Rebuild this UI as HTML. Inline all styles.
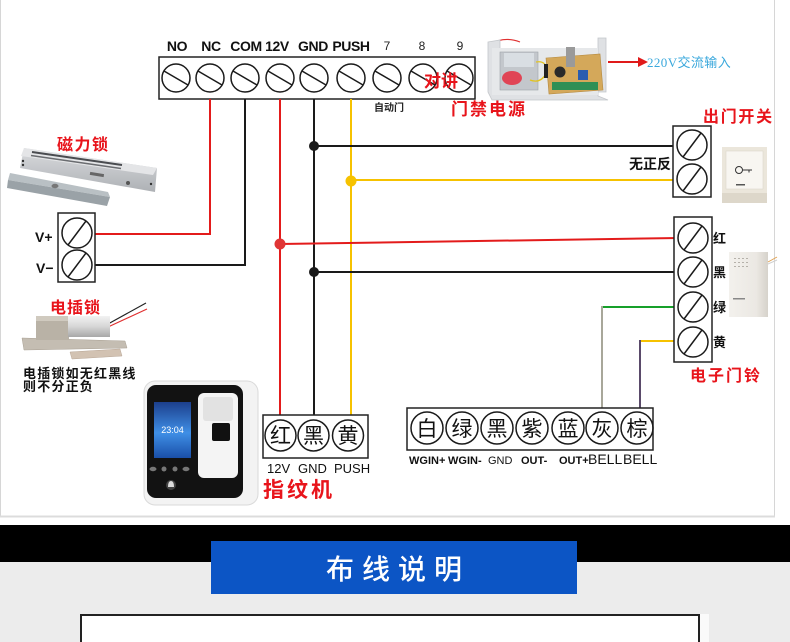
<!DOCTYPE html>
<html><head><meta charset="utf-8">
<style>
html,body{margin:0;padding:0;width:790px;height:642px;overflow:hidden;background:#fff;}
svg{display:block;}
text{font-family:"Liberation Sans","Noto Sans CJK SC",sans-serif;}
</style></head><body>
<svg width="790" height="642" viewBox="0 0 790 642" xmlns="http://www.w3.org/2000/svg">
<defs>
<linearGradient id="silv" x1="0" y1="0" x2="0" y2="1"><stop offset="0" stop-color="#d9dbde"/><stop offset="1" stop-color="#aeb1b5"/></linearGradient>
<linearGradient id="cyl" x1="0" y1="0" x2="0" y2="1"><stop offset="0" stop-color="#f2f2f2"/><stop offset="0.5" stop-color="#d6d6d6"/><stop offset="1" stop-color="#a8a8a8"/></linearGradient>
<linearGradient id="scr" x1="0" y1="0" x2="0" y2="1"><stop offset="0" stop-color="#1c3f8c"/><stop offset="0.55" stop-color="#3f8fe6"/><stop offset="1" stop-color="#1a4fa8"/></linearGradient>
<linearGradient id="bell" x1="0" y1="0" x2="1" y2="0"><stop offset="0" stop-color="#f3f1ed"/><stop offset="0.7" stop-color="#ebe8e3"/><stop offset="1" stop-color="#d6d2cb"/></linearGradient>
</defs>

<!-- panel -->
<rect x="0.5" y="-2" width="774" height="518" fill="#fff" stroke="#d6d6d6" stroke-width="1"/>
<line x1="0" y1="516.5" x2="775" y2="516.5" stroke="#dcdcdc" stroke-width="2"/>

<!-- bottom section -->
<rect x="0" y="525" width="790" height="37" fill="#000"/>
<rect x="0" y="562" width="790" height="80" fill="#ececec"/>
<rect x="211" y="541" width="366" height="53" fill="#0c55c5"/>
<text x="398" y="579" font-size="28" font-weight="500" fill="#fff" text-anchor="middle" letter-spacing="8">布线说明</text>
<rect x="700" y="614" width="9" height="28" fill="#fafafa"/>
<rect x="81" y="615" width="618" height="40" fill="#fff" stroke="#222" stroke-width="2"/>

<!-- ========== top terminal strip ========== -->
<g font-size="14" font-weight="bold" fill="#111" text-anchor="middle" letter-spacing="-0.4">
<text x="177" y="51">NO</text>
<text x="211" y="51">NC</text>
<text x="246" y="51">COM</text>
<text x="277" y="51">12V</text>
<text x="313" y="51">GND</text>
<text x="351" y="51">PUSH</text>
</g>
<g font-size="12" fill="#222" text-anchor="middle">
<text x="387" y="50">7</text>
<text x="422" y="50">8</text>
<text x="460" y="50">9</text>
</g>
<rect x="159" y="57" width="316" height="42" fill="#fff" stroke="#222" stroke-width="1.5"/>
<g fill="none" stroke="#1a1a1a" stroke-width="1.5">
<circle cx="176" cy="78" r="14"/><line x1="164" y1="71" x2="188" y2="85"/>
<circle cx="210" cy="78" r="14"/><line x1="198" y1="71" x2="222" y2="85"/>
<circle cx="245" cy="78" r="14"/><line x1="233" y1="71" x2="257" y2="85"/>
<circle cx="280" cy="78" r="14"/><line x1="268" y1="71" x2="292" y2="85"/>
<circle cx="314" cy="78" r="14"/><line x1="302" y1="71" x2="326" y2="85"/>
<circle cx="351" cy="78" r="14"/><line x1="339" y1="71" x2="363" y2="85"/>
<circle cx="387" cy="78" r="14"/><line x1="375" y1="71" x2="399" y2="85"/>
<circle cx="423" cy="78" r="14"/><line x1="411" y1="71" x2="435" y2="85"/>
<circle cx="459" cy="78" r="14"/><line x1="447" y1="71" x2="471" y2="85"/>
</g>
<text x="424" y="87" font-size="17" font-weight="bold" fill="#e8141b">对讲</text>
<text x="374" y="111" font-size="10" font-weight="bold" fill="#222">自动门</text>
<text x="451" y="115" font-size="17" font-weight="bold" fill="#e8141b" letter-spacing="2">门禁电源</text>

<!-- power supply image -->
<g>
<path d="M490 44 Q505 36 520 42" stroke="#e03030" stroke-width="1.2" fill="none"/>
<polygon points="488,42 500,40 500,92 606,92 606,38 598,38 598,96 608,100 492,100 488,92" fill="#dfe1e4" stroke="#c3c6ca" stroke-width="0.8"/>
<rect x="492" y="48" width="106" height="47" fill="#e6e8ea"/>
<rect x="500" y="52" width="38" height="38" fill="#c3c7cc" stroke="#9ea3a8" stroke-width="0.6"/>
<rect x="504" y="53" width="30" height="14" fill="#d9dee3"/>
<ellipse cx="512" cy="78" rx="10" ry="7" fill="#e04455"/>
<polygon points="546,58 600,54 603,90 549,94" fill="#d4a85a" stroke="#b48a40" stroke-width="0.6"/>
<rect x="566" y="47" width="9" height="20" fill="#9a9a9a"/>
<circle cx="560" cy="72" r="5.5" fill="#2a2a2a"/>
<rect x="578" y="70" width="10" height="10" fill="#2a5db0"/>
<rect x="552" y="82" width="46" height="8" fill="#2f8f55"/>
<path d="M536 62 Q548 60 546 74 Q540 84 530 80" stroke="#e2c320" stroke-width="1.3" fill="none"/>
<rect x="544" y="64" width="4" height="14" fill="#222"/>
</g>
<line x1="608" y1="62" x2="640" y2="62" stroke="#e01a1a" stroke-width="2"/>
<polygon points="638,57 648,62 638,67" fill="#e01a1a"/>
<text x="647" y="67" font-size="13" fill="#3aa8dc" letter-spacing="0.4"><tspan font-family="Liberation Serif, serif">220V</tspan>交流输入</text>

<!-- ========== wires ========== -->
<g fill="none" stroke-width="2">
<polyline points="210,99 210,234 92,234" stroke="#e31b1b"/>
<polyline points="245,99 245,265 92,265" stroke="#1a1a1a"/>
<line x1="280" y1="99" x2="280" y2="420" stroke="#e31b1b"/>
<line x1="314" y1="99" x2="314" y2="420" stroke="#1a1a1a"/>
<line x1="351" y1="99" x2="351" y2="420" stroke="#f6c200"/>
<line x1="314" y1="146" x2="678" y2="146" stroke="#1a1a1a"/>
<line x1="351" y1="180" x2="678" y2="180" stroke="#f6c200"/>
<line x1="280" y1="244" x2="679" y2="238" stroke="#e31b1b"/>
<line x1="314" y1="272" x2="679" y2="272" stroke="#1a1a1a"/>
<line x1="602" y1="307" x2="679" y2="307" stroke="#16a02a"/>
<line x1="602" y1="306" x2="602" y2="413" stroke="#a8a79a"/>
<line x1="640" y1="341" x2="679" y2="341" stroke="#f6c200"/>
<line x1="640" y1="340" x2="640" y2="413" stroke="#5a4a6a"/>
</g>
<circle cx="314" cy="146" r="5" fill="#1a1a1a"/>
<circle cx="351" cy="181" r="5.5" fill="#f6c200"/>
<circle cx="280" cy="244" r="5.5" fill="#e03535"/>
<circle cx="314" cy="272" r="5" fill="#1a1a1a"/>

<!-- ========== exit switch ========== -->
<text x="703" y="122" font-size="16" font-weight="bold" fill="#e8141b" letter-spacing="1.7">出门开关</text>
<rect x="673" y="126" width="38" height="71" fill="#fff" stroke="#222" stroke-width="1.5"/>
<g fill="none" stroke="#1a1a1a" stroke-width="1.5">
<circle cx="692" cy="145" r="15"/><line x1="683" y1="157" x2="701" y2="133"/>
<circle cx="692" cy="179" r="15"/><line x1="683" y1="191" x2="701" y2="167"/>
</g>
<text x="629" y="169" font-size="14" font-weight="bold" fill="#111">无正反</text>
<g>
<rect x="722" y="147" width="45" height="56" fill="#ebe6db"/>
<rect x="726" y="151" width="37" height="38" fill="#f8f6f1" stroke="#dcd7cc" stroke-width="0.6"/>
<circle cx="739" cy="170" r="3.5" fill="none" stroke="#333" stroke-width="1"/>
<line x1="742.5" y1="170" x2="752" y2="170" stroke="#333" stroke-width="1"/>
<line x1="749" y1="170" x2="749" y2="172.5" stroke="#333" stroke-width="1"/>
<rect x="736" y="184" width="9" height="1.5" fill="#555"/>
<rect x="722" y="193" width="45" height="10" fill="#ddd7ca"/>
</g>

<!-- ========== doorbell ========== -->
<rect x="674" y="217" width="38" height="145" fill="#fff" stroke="#222" stroke-width="1.5"/>
<g fill="none" stroke="#1a1a1a" stroke-width="1.5">
<circle cx="693" cy="238" r="15"/><line x1="684" y1="250" x2="702" y2="226"/>
<circle cx="693" cy="272" r="15"/><line x1="684" y1="284" x2="702" y2="260"/>
<circle cx="693" cy="307" r="15"/><line x1="684" y1="319" x2="702" y2="295"/>
<circle cx="693" cy="342" r="15"/><line x1="684" y1="354" x2="702" y2="330"/>
</g>
<g font-size="13" font-weight="bold" fill="#111">
<text x="713" y="243">红</text>
<text x="713" y="277">黑</text>
<text x="713" y="312">绿</text>
<text x="713" y="347">黄</text>
</g>
<text x="690" y="381" font-size="16" font-weight="bold" fill="#e8141b" letter-spacing="2">电子门铃</text>
<g>
<rect x="729" y="252" width="39" height="65" fill="url(#bell)"/>
<g fill="#b5b1aa">
<rect x="734" y="258" width="2" height="1"/><rect x="738" y="258" width="2" height="1"/><rect x="742" y="258" width="2" height="1"/><rect x="746" y="258" width="2" height="1"/>
<rect x="734" y="262" width="2" height="1"/><rect x="738" y="262" width="2" height="1"/><rect x="742" y="262" width="2" height="1"/><rect x="746" y="262" width="2" height="1"/>
<rect x="734" y="266" width="2" height="1"/><rect x="738" y="266" width="2" height="1"/><rect x="742" y="266" width="2" height="1"/><rect x="746" y="266" width="2" height="1"/>
</g>
<rect x="733" y="298" width="12" height="1.5" fill="#888"/>
<line x1="768" y1="262" x2="777" y2="257" stroke="#e0a050" stroke-width="1"/>
<line x1="768" y1="264" x2="777" y2="260" stroke="#d0d0d0" stroke-width="1"/>
</g>

<!-- ========== magnetic lock ========== -->
<text x="57" y="150" font-size="16" font-weight="bold" fill="#e8141b" letter-spacing="1.5">磁力锁</text>
<g>
<polygon points="24,148 157,168 155,192 20,168" fill="url(#silv)"/>
<polygon points="24,148 157,168 153,175 21,156" fill="#e4e5e7"/>
<line x1="32" y1="152" x2="122" y2="165" stroke="#4a4c50" stroke-width="2"/>
<line x1="31" y1="155.5" x2="121" y2="168.5" stroke="#6a6c70" stroke-width="1.5"/>
<circle cx="23" cy="161" r="1.2" fill="#333"/>
<circle cx="23" cy="165" r="1.2" fill="#333"/>
<circle cx="151" cy="184" r="1.2" fill="#333"/>
<circle cx="128" cy="183" r="2" fill="#555"/>
<rect x="90" y="173" width="14" height="3" fill="#666" transform="rotate(9 97 174)"/>
<polygon points="10,173 108,192 110,197 8,180" fill="#b9c0c4"/>
<polygon points="8,180 110,197 107,206 7,188" fill="#9aa2a7"/>
<ellipse cx="55" cy="186" rx="3.5" ry="2.2" fill="#777"/>
</g>
<rect x="58" y="213" width="37" height="69" fill="#fff" stroke="#222" stroke-width="1.5"/>
<g fill="none" stroke="#1a1a1a" stroke-width="1.5">
<circle cx="77" cy="233" r="15"/><line x1="68" y1="245" x2="86" y2="221"/>
<circle cx="77" cy="265" r="15"/><line x1="68" y1="277" x2="86" y2="253"/>
</g>
<text x="35" y="242" font-size="14" font-weight="bold" fill="#111">V+</text>
<text x="36" y="273" font-size="14" font-weight="bold" fill="#111">V−</text>

<!-- ========== electric bolt ========== -->
<text x="50" y="313" font-size="16" font-weight="bold" fill="#e8141b" letter-spacing="1">电插锁</text>
<g>
<line x1="108" y1="324" x2="146" y2="303" stroke="#222" stroke-width="1.2"/>
<line x1="108" y1="327" x2="147" y2="309" stroke="#e03030" stroke-width="1.2"/>
<polygon points="22,338 125,341 127,348 24,350" fill="#c4bdb2" stroke="#a89f92" stroke-width="0.5"/>
<rect x="36" y="316" width="33" height="24" fill="#b9b2a6"/>
<rect x="36" y="316" width="33" height="5" fill="#d0cabf"/>
<rect x="68" y="316" width="42" height="21" fill="url(#cyl)"/>
<polygon points="70,352 120,349 122,356 72,359" fill="#d2c2b2" stroke="#b8a696" stroke-width="0.5"/>
</g>
<text x="23" y="378" font-size="13" font-weight="bold" fill="#111" letter-spacing="1.2">电插锁如无红黑线</text>
<text x="23" y="391" font-size="13" font-weight="bold" fill="#111" letter-spacing="1.2">则不分正负</text>

<!-- ========== fingerprint device ========== -->
<g>
<rect x="144" y="381" width="114" height="124" rx="11" fill="#f3f3f3" stroke="#dadada" stroke-width="1"/>
<rect x="147" y="385" width="96" height="113" rx="9" fill="#121212"/>
<rect x="154" y="402" width="37" height="56" fill="url(#scr)"/>
<text x="172.5" y="433" font-size="9" fill="#fff" text-anchor="middle">23:04</text>
<rect x="198" y="393" width="40" height="85" rx="6" fill="#f4f4f4"/>
<rect x="203" y="397" width="30" height="24" rx="3" fill="#e2e2e2"/>
<rect x="212" y="423" width="18" height="18" rx="2" fill="#111"/>
<g fill="#777">
<ellipse cx="153" cy="469" rx="3.5" ry="2.2"/>
<circle cx="164" cy="469" r="2.5"/>
<circle cx="175" cy="469" r="2.5"/>
<ellipse cx="186" cy="469" rx="3.5" ry="2.2"/>
</g>
<circle cx="171" cy="485" r="5" fill="#444"/>
<path d="M168 487 Q168 481 171 481 Q174 481 174 487 Z" fill="#ddd"/>
</g>
<rect x="263" y="415" width="105" height="43" fill="#fff" stroke="#222" stroke-width="1.5"/>
<g fill="none" stroke="#1a1a1a" stroke-width="1.5">
<circle cx="280.5" cy="435.5" r="15.5"/>
<circle cx="313.5" cy="435.5" r="15.5"/>
<circle cx="348" cy="435.5" r="15.5"/>
</g>
<g font-size="21" fill="#111" text-anchor="middle">
<text x="280.5" y="443">红</text>
<text x="313.5" y="443">黑</text>
<text x="348" y="443">黄</text>
</g>
<g font-size="13" fill="#111">
<text x="267" y="473">12V</text>
<text x="298" y="473">GND</text>
<text x="334" y="473">PUSH</text>
</g>
<text x="263" y="497" font-size="21" font-weight="bold" fill="#e8141b" letter-spacing="3">指纹机</text>

<!-- ========== bottom strip ========== -->
<rect x="407" y="408" width="246" height="42" fill="#fff" stroke="#222" stroke-width="1.5"/>
<g fill="none" stroke="#1a1a1a" stroke-width="1.5">
<circle cx="427" cy="428" r="16"/>
<circle cx="462" cy="428" r="16"/>
<circle cx="497" cy="428" r="16"/>
<circle cx="532" cy="428" r="16"/>
<circle cx="568" cy="428" r="16"/>
<circle cx="602" cy="428" r="16"/>
<circle cx="637" cy="428" r="16"/>
</g>
<g font-size="21" fill="#111" text-anchor="middle">
<text x="427" y="436">白</text>
<text x="462" y="436">绿</text>
<text x="497" y="436">黑</text>
<text x="532" y="436">紫</text>
<text x="568" y="436">蓝</text>
<text x="602" y="436">灰</text>
<text x="637" y="436">棕</text>
</g>
<g font-family="Liberation Mono, monospace" font-size="11" font-weight="bold" fill="#111">
<text x="409" y="464" font-family="Liberation Mono, monospace">WGIN+</text>
<text x="448" y="464" font-family="Liberation Mono, monospace">WGIN-</text>
<text x="521" y="464" font-family="Liberation Mono, monospace">OUT-</text>
<text x="559" y="464" font-family="Liberation Mono, monospace">OUT+</text>
</g>
<text x="488" y="464" font-size="11" fill="#111">GND</text>
<text x="588" y="464" font-size="14" fill="#111">BELL</text>
<text x="623" y="464" font-size="14" fill="#111">BELL</text>
</svg>
</body></html>
